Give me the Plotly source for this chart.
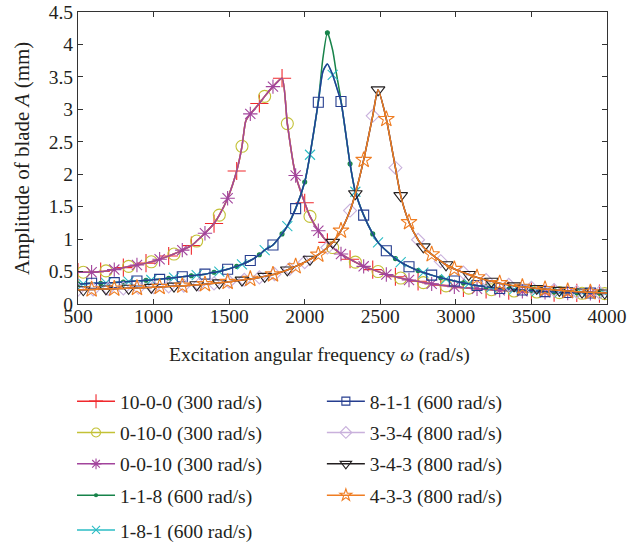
import plotly.graph_objects as go

# ---------------- data ----------------
# 300 rad/s group curve (10-0-0, 0-10-0, 0-0-10)
w_g1 = [500, 535, 590, 650, 685, 740, 800, 835, 890, 950, 985, 1040, 1100, 1135, 1190, 1250, 1285,
        1340, 1400, 1435, 1490, 1550, 1585, 1610, 1640, 1700, 1735, 1790, 1850, 1885, 1940, 2000,
        2035, 2090, 2150, 2185, 2240, 2300, 2335, 2390, 2450, 2485, 2540, 2600, 2635, 2690, 2750,
        2785, 2840, 2900, 2935, 2990, 3050, 3085, 3140, 3200, 3235, 3290, 3350, 3385, 3440, 3500,
        3535, 3590, 3650, 3685, 3740, 3800, 3835, 3890, 3950, 3985, 4000]
a_g1 = [0.49, 0.49, 0.49, 0.50, 0.51, 0.53, 0.56, 0.58, 0.60, 0.63, 0.65, 0.69, 0.74, 0.77, 0.83,
        0.90, 0.97, 1.09, 1.24, 1.37, 1.63, 2.05, 2.43, 2.82, 2.93, 3.09, 3.20, 3.35, 3.48, 2.78,
        1.98, 1.56, 1.35, 1.13, 0.95, 0.87, 0.77, 0.69, 0.645, 0.58, 0.53, 0.50, 0.455, 0.42, 0.40,
        0.37, 0.35, 0.33, 0.31, 0.29, 0.28, 0.265, 0.25, 0.245, 0.235, 0.225, 0.22, 0.21, 0.205,
        0.20, 0.195, 0.19, 0.185, 0.18, 0.175, 0.175, 0.17, 0.17, 0.165, 0.165, 0.16, 0.16, 0.16]

# 600 rad/s group curve (1-8-1, 8-1-1)
w_g2 = [500, 535, 590, 650, 685, 740, 800, 835, 890, 950, 985, 1040, 1100, 1135, 1190, 1250, 1285,
        1340, 1400, 1435, 1490, 1550, 1585, 1640, 1700, 1735, 1790, 1850, 1885, 1940, 2000, 2035,
        2090, 2120, 2150, 2185, 2210, 2240, 2300, 2335, 2390, 2450, 2485, 2540, 2600, 2635, 2690,
        2750, 2785, 2840, 2900, 2935, 2990, 3050, 3085, 3140, 3200, 3235, 3290, 3350, 3385, 3440,
        3500, 3535, 3590, 3650, 3685, 3740, 3800, 3835, 3890, 3950, 3985, 4000]
a_g2 = [0.31, 0.31, 0.32, 0.32, 0.325, 0.33, 0.34, 0.345, 0.355, 0.365, 0.37, 0.38, 0.395, 0.405,
        0.42, 0.435, 0.445, 0.46, 0.49, 0.50, 0.535, 0.58, 0.61, 0.67, 0.76, 0.83, 0.91, 1.08, 1.20,
        1.47, 1.88, 2.30, 3.11, 3.58, 3.70, 3.53, 3.35, 3.12, 2.16, 1.73, 1.37, 1.08, 0.95, 0.82,
        0.70, 0.645, 0.575, 0.515, 0.485, 0.445, 0.405, 0.385, 0.355, 0.325, 0.31, 0.285, 0.265,
        0.255, 0.24, 0.23, 0.225, 0.215, 0.205, 0.20, 0.19, 0.185, 0.18, 0.178, 0.175, 0.172, 0.17,
        0.168, 0.165, 0.165]
# 1-1-8 differs only near the resonance peak
w_118_peak = [2090, 2120, 2150, 2185, 2210, 2240]
a_118_peak = [3.13, 3.78, 4.18, 3.91, 3.55, 3.14]

# 800 rad/s group curve (3-3-4, 3-4-3, 4-3-3)
w_g3 = [500, 535, 590, 600, 650, 685, 700, 740, 800, 835, 890, 900, 950, 985, 1000, 1040, 1100,
        1135, 1190, 1200, 1250, 1285, 1300, 1340, 1400, 1435, 1490, 1500, 1550, 1585, 1600, 1640,
        1700, 1735, 1790, 1800, 1850, 1885, 1900, 1940, 2000, 2035, 2090, 2150, 2185, 2240, 2300,
        2335, 2390, 2450, 2485, 2540, 2600, 2635, 2690, 2750, 2785, 2840, 2900, 2935, 2990, 3050,
        3085, 3140, 3200, 3235, 3290, 3350, 3385, 3440, 3500, 3535, 3590, 3650, 3685, 3740, 3800,
        3835, 3890, 3950, 3985, 4000]
a_g3 = [0.22, 0.22, 0.225, 0.225, 0.23, 0.232, 0.233, 0.236, 0.24, 0.243, 0.248, 0.249, 0.253,
        0.256, 0.258, 0.262, 0.27, 0.275, 0.282, 0.283, 0.29, 0.296, 0.298, 0.305, 0.318, 0.326,
        0.34, 0.343, 0.357, 0.368, 0.373, 0.387, 0.41, 0.426, 0.455, 0.46, 0.495, 0.525, 0.54, 0.58,
        0.645, 0.69, 0.76, 0.87, 0.95, 1.13, 1.44, 1.70, 2.22, 2.90, 3.30, 2.85, 2.10, 1.67, 1.26,
        0.99, 0.88, 0.765, 0.66, 0.605, 0.54, 0.485, 0.455, 0.41, 0.37, 0.35, 0.32, 0.295, 0.28,
        0.265, 0.25, 0.24, 0.23, 0.215, 0.21, 0.20, 0.19, 0.185, 0.18, 0.175, 0.17, 0.17]

# marker frequencies of each series (rad/s)
mk_150_a = list(range(500, 4001, 150))
mk_150_b = list(range(535, 4001, 150))
mk_150_c = list(range(590, 4001, 150))
mk_334 = list(range(500, 2001, 100)) + list(range(2150, 4001, 150))

labels = ["10-0-0 (300 rad/s)", "0-10-0 (300 rad/s)", "0-0-10 (300 rad/s)",
          "1-1-8 (600 rad/s)", "1-8-1 (600 rad/s)", "8-1-1 (600 rad/s)",
          "3-3-4 (800 rad/s)", "3-4-3 (800 rad/s)", "4-3-3 (800 rad/s)"]

x_ticks = [500, 1000, 1500, 2000, 2500, 3000, 3500, 4000]
y_ticks = [0, 0.5, 1, 1.5, 2, 2.5, 3, 3.5, 4, 4.5]

# ---------------- build curves ----------------
peak118 = dict(zip(w_118_peak, a_118_peak))
a_118 = [peak118.get(w, a) for w, a in zip(w_g2, a_g2)]

series = [
    # label, w, a, marker freqs, color, symbol, size, legend-size, legend
    (labels[0], w_g1, a_g1, mk_150_a, "#f0282d", "cross-thin-open", 13, 10, "legend"),
    (labels[1], w_g1, a_g1, mk_150_b, "#c3c136", "circle-open", 12, 9, "legend"),
    (labels[2], w_g1, a_g1, mk_150_c, "#a2449c", "asterisk-open", 12, 9, "legend"),
    (labels[3], w_g2, a_118, mk_150_a, "#17834a", "circle", 4, 3, "legend"),
    (labels[4], w_g2, a_g2, mk_150_b, "#2bbcc4", "x-thin-open", 10, 8, "legend3"),
    (labels[5], w_g2, a_g2, mk_150_c, "#253d8f", "square-open", 10, 8, "legend2"),
    (labels[6], w_g3, a_g3, mk_334, "#c9b1dc", "diamond-open", 10, 9, "legend2"),
    (labels[7], w_g3, a_g3, mk_150_b, "#231f20", "triangle-down-open", 12, 10, "legend2"),
    (labels[8], w_g3, a_g3, mk_150_c, "#ef7d22", "star-open", 12, 9, "legend2"),
]

fig = go.Figure()
for i, (name, w, a, mks, col, sym, ms, lms, lg) in enumerate(series):
    lookup = dict(zip(w, a))
    mx = [v for v in mks if v in lookup]
    my = [lookup[v] for v in mx]
    fig.add_trace(go.Scatter(x=w, y=a, mode="lines", line=dict(color=col, width=1.5, shape="spline", smoothing=0.6),
                             showlegend=False, hoverinfo="skip"))
    fig.add_trace(go.Scatter(x=mx, y=my, mode="markers",
                             marker=dict(symbol=sym, size=ms, color=col, line=dict(color=col, width=1.1)),
                             showlegend=False))
    fig.add_trace(go.Scatter(x=[None], y=[None], mode="lines+markers", name=name, legend=lg,
                             legendgroup="g%d" % i,
                             line=dict(color=col, width=1.5),
                             marker=dict(symbol=sym, size=lms, color=col, line=dict(color=col, width=1.1))))

FONT = "Liberation Serif"
TXT = "#231f20"
axis_common = dict(showline=True, linecolor="#333333", linewidth=1, mirror="ticks", ticks="inside",
                   ticklen=5, tickcolor="#333333", showgrid=False, zeroline=False,
                   tickfont=dict(family=FONT, size=19.5, color=TXT))

leg_common = dict(xanchor="left", yanchor="top",
                  bgcolor="rgba(0,0,0,0)", font=dict(family=FONT, size=19.5, color=TXT),
                  itemwidth=38, traceorder="grouped", tracegroupgap=3)

fig.update_layout(
    width=629, height=546,
    margin=dict(l=78, r=22, t=12, b=242, autoexpand=False),
    paper_bgcolor="white", plot_bgcolor="white",
    font=dict(family=FONT, size=19.5, color=TXT),
    xaxis=dict(range=[500, 4000], tickvals=x_ticks, ticklabelstandoff=-5, **axis_common),
    yaxis=dict(range=[0, 4.5], tickvals=y_ticks, **axis_common),
    legend=dict(x=-0.0113, y=-0.267, **leg_common),
    legend2=dict(x=0.461, y=-0.267, **leg_common),
    legend3=dict(x=-0.0113, y=-0.708, **leg_common),
    annotations=[
        dict(text="Excitation angular frequency <i>ω</i> (rad/s)", xref="paper", yref="paper",
             x=0.456, y=-0.175, xanchor="center", yanchor="middle", showarrow=False,
             font=dict(family=FONT, size=19.5, color=TXT)),
        dict(text="Amplitude of blade <i>A</i> (mm)", xref="paper", yref="paper",
             x=-0.106, y=0.50, xanchor="center", yanchor="middle", showarrow=False, textangle=-90,
             font=dict(family=FONT, size=21, color=TXT)),
    ],
)

fig.write_html("out.html")
